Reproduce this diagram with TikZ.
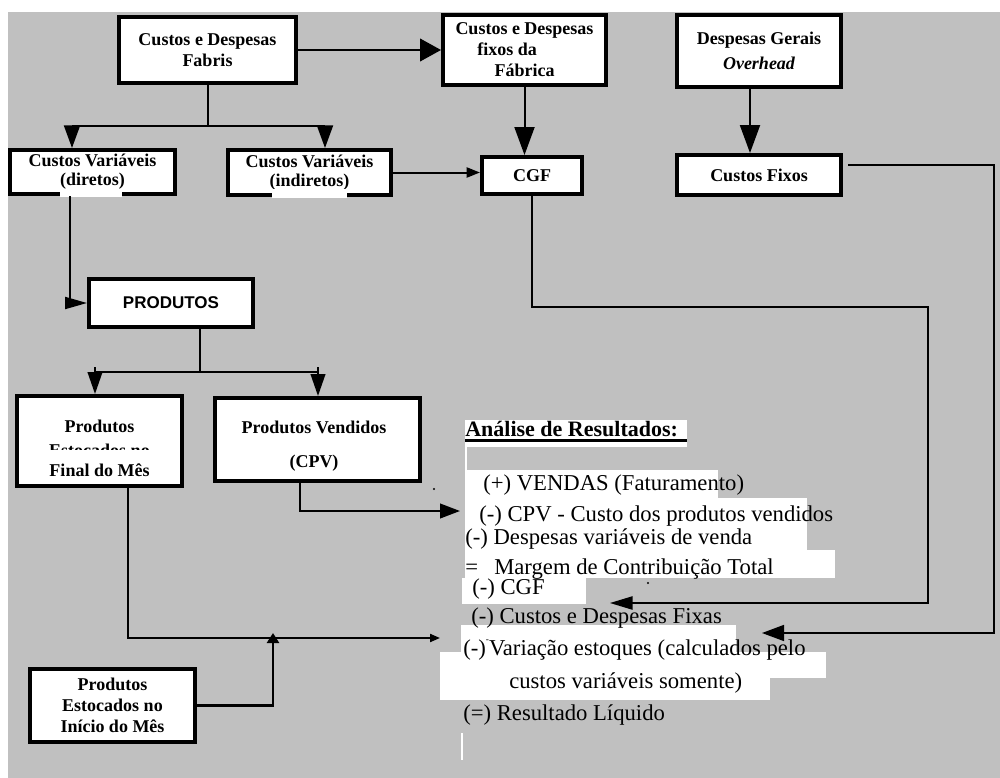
\documentclass[tikz,border=0pt]{standalone}
\usepackage{fontspec}
\setmainfont{Liberation Serif}
\newfontfamily\headsans{Liberation Sans}
\usetikzlibrary{arrows.meta}
\definecolor{panel}{HTML}{C0C0C0}
\tikzset{
  box/.style={draw, line width=3pt, fill=white, inner sep=0pt, align=center,
    font=\fontsize{13.5}{15.75}\selectfont\bfseries},
  boxtext/.style={anchor=base, inner sep=0pt, font=\fontsize{13.5}{15.75}\selectfont\bfseries},
  link/.style={line width=1.5pt},
  thinlink/.style={line width=1.1pt},
  tip/.style 2 args={-{Triangle[length=#1,width=#2]}},
  result/.style={anchor=base west, inner sep=0pt, font=\fontsize{17}{20}\selectfont},
  band/.style={fill=white},
}
\begin{document}
\begin{tikzpicture}[x=0.75pt, y=-0.75pt]
\useasboundingbox (0,0) rectangle (1000,778);
\fill[panel] (8,12) rectangle (1000,778);

% ---- boxes ----
\node[box, minimum width=132.75pt, minimum height=49.5pt] (fabris) at (207.5,50)
  {Custos e Despesas\\Fabris};
\node[box, minimum width=122.25pt, minimum height=52.5pt] (fixos) at (524.5,50)
  {Custos e Despesas\\fixos da\rule{26pt}{0pt}\\Fábrica};
\node[box, minimum width=123pt, minimum height=54pt] (overhead) at (759,51)
  {Despesas Gerais\\[3pt]\itshape Overhead};
\node[box, minimum width=75pt, minimum height=27.75pt] (cgf) at (532,175.5) {CGF};
\node[box, minimum width=123pt, minimum height=30pt] (cfixos) at (759,175) {Custos Fixos};
\node[box, minimum width=123.75pt, minimum height=33pt, font=\fontsize{13.5}{14.25}\selectfont\bfseries]
  (diretos) at (92.5,172) {Custos Variáveis\\(diretos)};
\node[box, minimum width=122.25pt, minimum height=33.75pt, font=\fontsize{13.5}{14.25}\selectfont\bfseries]
  (indiretos) at (309.5,172.5) {Custos Variáveis\\(indiretos)};
\node[box, minimum width=123pt, minimum height=36pt, font=\headsans\fontsize{12.75}{15}\selectfont\bfseries]
  (produtos) at (171,303) {PRODUTOS};
\node[box, minimum width=123.75pt, minimum height=67.5pt] (final) at (99.5,441) {};
\node[box, minimum width=153.75pt, minimum height=62.25pt] (vendidos) at (317.5,439.5) {};
\node[box, minimum width=123.75pt, minimum height=54.75pt] (inicio) at (112.5,705.5)
  {Produtos\\Estocados no\\Início do Mês};

% text of the sold-products box
\node[boxtext] (vendA) at (314,433) {Produtos Vendidos};
\node[boxtext] (vendB) at (314,467) {(CPV)};

% text of the month-end stock box; its middle line is partly covered
\node[boxtext] (finalA) at (99.5,432) {Produtos};
\node[boxtext] (finalB) at (99.5,456) {Estocados no};
\fill[white] (20,450) rectangle (179,462);
\node[boxtext] (finalC) at (99.5,476) {Final do Mês};

% white patches under the bracketed captions
\fill[white] (60,189) rectangle (122,197);
\fill[white] (272,189) rectangle (347,198);

% ---- connectors ----
\draw[link, tip={15.75pt}{17pt}] (fabris.east) -- (fixos.west);
\coordinate (forkL) at (72,126);
\coordinate (forkR) at (325,126);
\draw[link] (fabris.south) -- (fabris.south |- forkL);
\draw[link] (forkL) -- (forkR);
\draw[link, tip={17pt}{12pt}] (forkL) -- (forkL |- diretos.north);
\draw[link, tip={17pt}{12pt}] (forkR) -- (forkR |- indiretos.north);

\draw[link, tip={21pt}{15pt}] (fixos.south) -- (fixos.south |- cgf.north);
\draw[link, tip={21pt}{15pt}] ([xshift=-6.75pt]overhead.south) -- ([xshift=-6.75pt]overhead.south |- cfixos.north);
\draw[link, tip={10pt}{7.5pt}] (indiretos.east) -- (indiretos.east -| cgf.west);

\draw[link, tip={16.5pt}{9pt}] ([xshift=-16.9pt]diretos.south) |- (produtos.west);

\coordinate (fork2L) at (95,372);
\coordinate (fork2R) at (318,372);
\draw[link] ([xshift=21.75pt]produtos.south) -- ([xshift=21.75pt]produtos.south |- fork2L);
\draw[link] (fork2L) -- (fork2R);
\draw[link, tip={16.5pt}{11pt}] ([yshift=3.75pt]fork2L) -- (fork2L |- final.north);
\draw[link, tip={16.5pt}{11pt}] ([yshift=3.75pt]fork2R) -- (fork2R |- vendidos.north);

% into the results statement
\coordinate (cpvIn) at (460,511);
\coordinate (stockIn) at (440,638);
\coordinate (merge) at (273,633);
\coordinate (cgfTurn) at (928,307);
\coordinate (cgfRail) at (928,603);
\coordinate (cgfIn) at (610,603);
\coordinate (fixRail) at (994,633);
\coordinate (fixIn) at (762,633);

\draw[link, tip={15pt}{11pt}] ([xshift=-13.1pt]vendidos.south) |- (cpvIn);
\draw[link, tip={7.5pt}{6pt}] ([xshift=21.4pt]final.south) |- (stockIn);
\draw[line width=2.2pt, tip={7.5pt}{9pt}] (inicio.east) -| (merge);
\draw[thinlink, tip={17pt}{10pt}] (cgf.south) |- (cgfTurn) -- (cgfRail) -- (cgfIn);
\draw[thinlink, tip={16.5pt}{12pt}] ([xshift=3.75pt,yshift=7.5pt]cfixos.east) -| (fixRail) -- (fixIn);

% ---- results statement ----
\fill[band] (465,420) rectangle (687,447);
\fill[band] (465,447) rectangle (467,470);
\fill[band] (465,470) rectangle (718,498);
\fill[band] (465,498) rectangle (807,550);
\fill[band] (465,550) rectangle (835,578);
\fill[band] (462,578) rectangle (586,604);
\fill[band] (461,625) rectangle (736,652);
\fill[band] (440,652) rectangle (826,678);
\fill[band] (440,678) rectangle (770,700);
\fill[band] (461,733) rectangle (462.5,760);

\node[result, font=\fontsize{16.5}{20}\selectfont\bfseries] (title) at (465,436) {Análise de Resultados:};
\draw[line width=2.25pt] (465,440) -- (687,440);
\node[result] (vendas) at (483,490) {(+) VENDAS (Faturamento)};
\node[result] (cpv) at (479,521) {(-) CPV - Custo dos produtos vendidos};
\node[result] (dvar) at (465,544) {(-) Despesas variáveis de venda};
\node[result] (margem) at (465,574) {\makebox[21.75pt][l]{=}Margem de Contribuição Total};
\node[result] (cgfline) at (472,594) {(-) CGF};
\node[result] (fixas) at (471,623) {(-) Custos e Despesas Fixas};
\node[result] (estoque) at (463,655) {(-)\raisebox{0.55em}{\fontsize{7}{7}\selectfont -}Variação estoques (calculados pelo};
\node[result] (estoque2) at (509,688) {custos variáveis somente)};
\node[result] (liquido) at (463,720) {(=) Resultado Líquido};

% stray specks
\fill (434,489) circle[radius=0.9pt];
\fill (648,583) circle[radius=0.9pt];
\end{tikzpicture}
\end{document}
